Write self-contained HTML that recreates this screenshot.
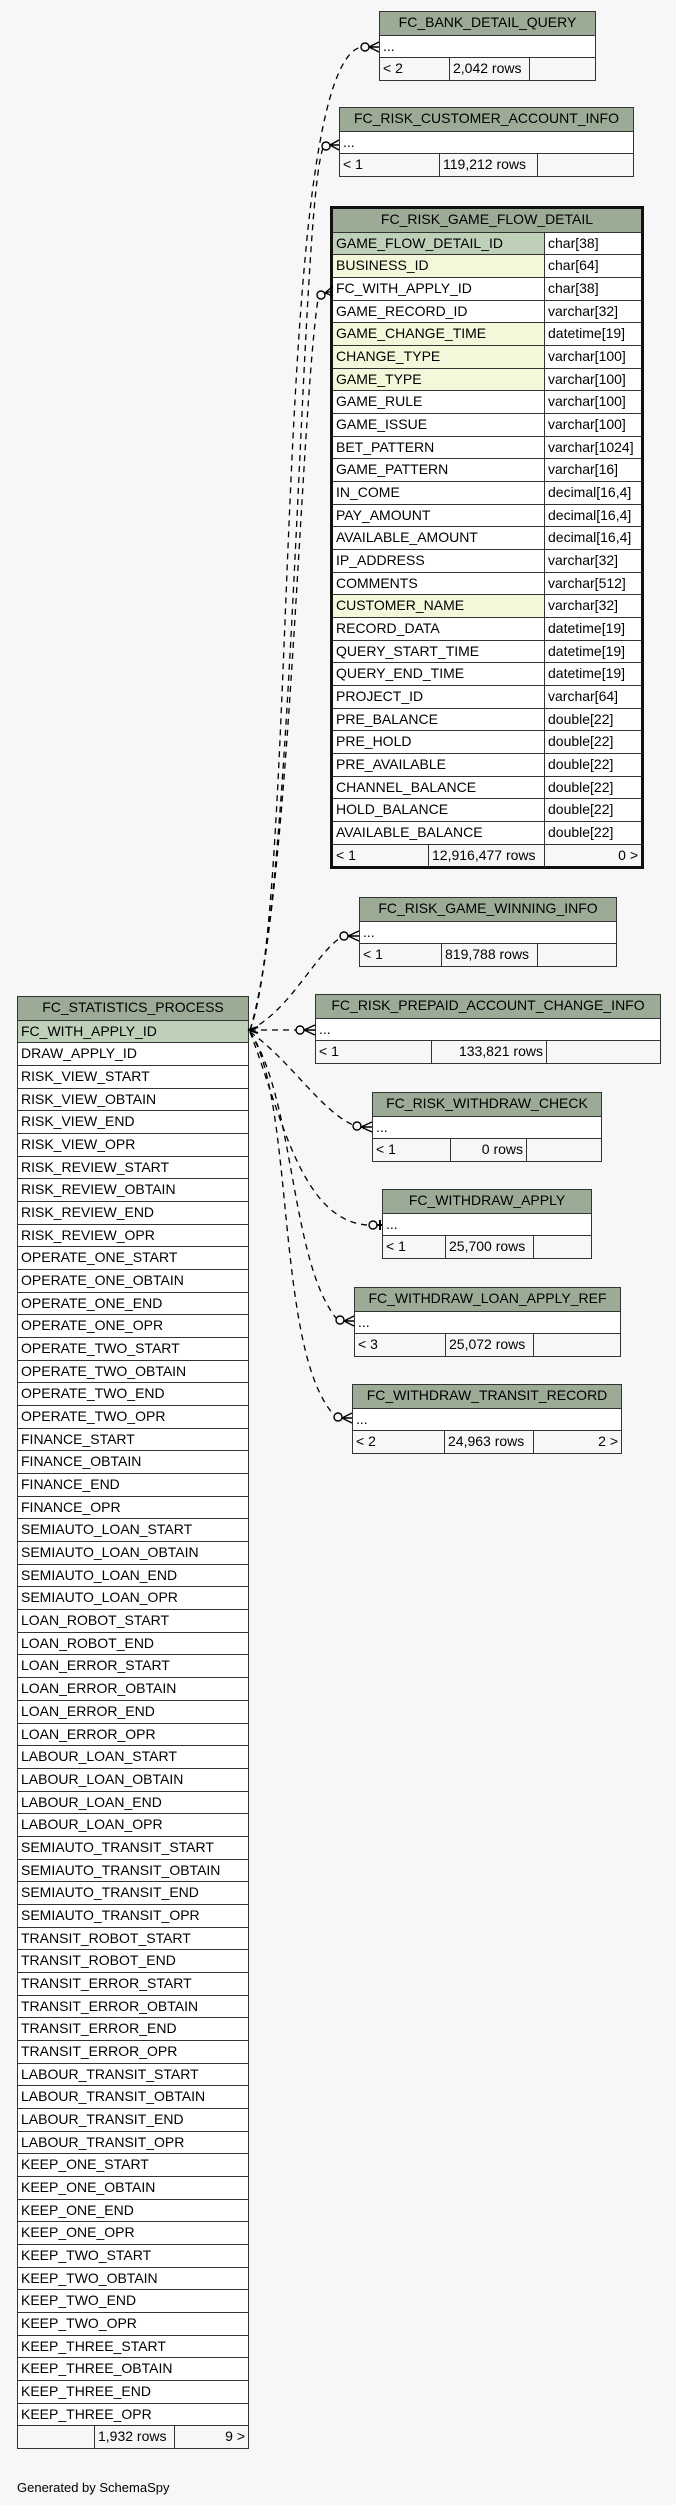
<!DOCTYPE html>
<html><head><meta charset="utf-8"><style>
body{margin:0;width:676px;height:2505px;background:#f7f7f7;position:relative;overflow:hidden;font-family:"Liberation Sans",Arial,sans-serif;font-size:14px;color:#000}
.t{position:absolute;border:1px solid #333;background:#fff;box-sizing:border-box}
.r{height:22.68px;box-sizing:border-box;border-top:1px solid #333;display:flex;line-height:21px;white-space:nowrap;overflow:hidden}
.r:first-child{border-top:none}
.h{background:#9bab96;justify-content:center;text-align:center}
.c{padding-left:3px;box-sizing:border-box;overflow:hidden}
.c+.c{border-left:1px solid #333}
.f{background:#f7f7f7}
.rt{text-align:right;padding-right:3px}
.pk{background:#bed1b8}
.y{background:#f4f7da}
.g{border:3px solid #111}
svg{position:absolute;left:0;top:0}
</style></head><body>

<!-- FC_BANK_DETAIL_QUERY -->
<div class="t" style="left:379px;top:11px;width:217px">
<div class="r h">FC_BANK_DETAIL_QUERY</div>
<div class="r"><div class="c">...</div></div>
<div class="r f"><div class="c" style="width:69px">&lt; 2</div><div class="c" style="width:80px">2,042 rows</div><div class="c" style="flex:1"></div></div>
</div>

<!-- FC_RISK_CUSTOMER_ACCOUNT_INFO -->
<div class="t" style="left:339px;top:107px;width:295px">
<div class="r h">FC_RISK_CUSTOMER_ACCOUNT_INFO</div>
<div class="r"><div class="c">...</div></div>
<div class="r f"><div class="c" style="width:99px">&lt; 1</div><div class="c" style="width:98px">119,212 rows</div><div class="c" style="flex:1"></div></div>
</div>

<!-- FC_RISK_GAME_FLOW_DETAIL -->
<div class="t g" style="left:330px;top:206px;width:314px">
<div class="r h">FC_RISK_GAME_FLOW_DETAIL</div>
<div class="r"><div class="c pk" style="width:211px">GAME_FLOW_DETAIL_ID</div><div class="c" style="flex:1">char[38]</div></div>
<div class="r"><div class="c y" style="width:211px">BUSINESS_ID</div><div class="c" style="flex:1">char[64]</div></div>
<div class="r"><div class="c" style="width:211px">FC_WITH_APPLY_ID</div><div class="c" style="flex:1">char[38]</div></div>
<div class="r"><div class="c" style="width:211px">GAME_RECORD_ID</div><div class="c" style="flex:1">varchar[32]</div></div>
<div class="r"><div class="c y" style="width:211px">GAME_CHANGE_TIME</div><div class="c" style="flex:1">datetime[19]</div></div>
<div class="r"><div class="c y" style="width:211px">CHANGE_TYPE</div><div class="c" style="flex:1">varchar[100]</div></div>
<div class="r"><div class="c y" style="width:211px">GAME_TYPE</div><div class="c" style="flex:1">varchar[100]</div></div>
<div class="r"><div class="c" style="width:211px">GAME_RULE</div><div class="c" style="flex:1">varchar[100]</div></div>
<div class="r"><div class="c" style="width:211px">GAME_ISSUE</div><div class="c" style="flex:1">varchar[100]</div></div>
<div class="r"><div class="c" style="width:211px">BET_PATTERN</div><div class="c" style="flex:1">varchar[1024]</div></div>
<div class="r"><div class="c" style="width:211px">GAME_PATTERN</div><div class="c" style="flex:1">varchar[16]</div></div>
<div class="r"><div class="c" style="width:211px">IN_COME</div><div class="c" style="flex:1">decimal[16,4]</div></div>
<div class="r"><div class="c" style="width:211px">PAY_AMOUNT</div><div class="c" style="flex:1">decimal[16,4]</div></div>
<div class="r"><div class="c" style="width:211px">AVAILABLE_AMOUNT</div><div class="c" style="flex:1">decimal[16,4]</div></div>
<div class="r"><div class="c" style="width:211px">IP_ADDRESS</div><div class="c" style="flex:1">varchar[32]</div></div>
<div class="r"><div class="c" style="width:211px">COMMENTS</div><div class="c" style="flex:1">varchar[512]</div></div>
<div class="r"><div class="c y" style="width:211px">CUSTOMER_NAME</div><div class="c" style="flex:1">varchar[32]</div></div>
<div class="r"><div class="c" style="width:211px">RECORD_DATA</div><div class="c" style="flex:1">datetime[19]</div></div>
<div class="r"><div class="c" style="width:211px">QUERY_START_TIME</div><div class="c" style="flex:1">datetime[19]</div></div>
<div class="r"><div class="c" style="width:211px">QUERY_END_TIME</div><div class="c" style="flex:1">datetime[19]</div></div>
<div class="r"><div class="c" style="width:211px">PROJECT_ID</div><div class="c" style="flex:1">varchar[64]</div></div>
<div class="r"><div class="c" style="width:211px">PRE_BALANCE</div><div class="c" style="flex:1">double[22]</div></div>
<div class="r"><div class="c" style="width:211px">PRE_HOLD</div><div class="c" style="flex:1">double[22]</div></div>
<div class="r"><div class="c" style="width:211px">PRE_AVAILABLE</div><div class="c" style="flex:1">double[22]</div></div>
<div class="r"><div class="c" style="width:211px">CHANNEL_BALANCE</div><div class="c" style="flex:1">double[22]</div></div>
<div class="r"><div class="c" style="width:211px">HOLD_BALANCE</div><div class="c" style="flex:1">double[22]</div></div>
<div class="r"><div class="c" style="width:211px">AVAILABLE_BALANCE</div><div class="c" style="flex:1">double[22]</div></div>
<div class="r f"><div class="c" style="width:95px">&lt; 1</div><div class="c" style="width:116px">12,916,477 rows</div><div class="c rt" style="flex:1">0 &gt;</div></div>
</div>

<!-- FC_RISK_GAME_WINNING_INFO -->
<div class="t" style="left:359px;top:897px;width:258px">
<div class="r h">FC_RISK_GAME_WINNING_INFO</div>
<div class="r"><div class="c">...</div></div>
<div class="r f"><div class="c" style="width:81px">&lt; 1</div><div class="c" style="width:96px">819,788 rows</div><div class="c" style="flex:1"></div></div>
</div>

<!-- FC_RISK_PREPAID_ACCOUNT_CHANGE_INFO -->
<div class="t" style="left:315px;top:994px;width:346px">
<div class="r h">FC_RISK_PREPAID_ACCOUNT_CHANGE_INFO</div>
<div class="r"><div class="c">...</div></div>
<div class="r f"><div class="c" style="width:115px">&lt; 1</div><div class="c rt" style="width:115px">133,821 rows</div><div class="c" style="flex:1"></div></div>
</div>

<!-- FC_RISK_WITHDRAW_CHECK -->
<div class="t" style="left:372px;top:1092px;width:230px">
<div class="r h">FC_RISK_WITHDRAW_CHECK</div>
<div class="r"><div class="c">...</div></div>
<div class="r f"><div class="c" style="width:77px">&lt; 1</div><div class="c rt" style="width:76px">0 rows</div><div class="c" style="flex:1"></div></div>
</div>

<!-- FC_WITHDRAW_APPLY -->
<div class="t" style="left:382px;top:1189px;width:210px">
<div class="r h">FC_WITHDRAW_APPLY</div>
<div class="r"><div class="c">...</div></div>
<div class="r f"><div class="c" style="width:62px">&lt; 1</div><div class="c" style="width:88px">25,700 rows</div><div class="c" style="flex:1"></div></div>
</div>

<!-- FC_WITHDRAW_LOAN_APPLY_REF -->
<div class="t" style="left:354px;top:1287px;width:267px">
<div class="r h">FC_WITHDRAW_LOAN_APPLY_REF</div>
<div class="r"><div class="c">...</div></div>
<div class="r f"><div class="c" style="width:90px">&lt; 3</div><div class="c" style="width:88px">25,072 rows</div><div class="c" style="flex:1"></div></div>
</div>

<!-- FC_WITHDRAW_TRANSIT_RECORD -->
<div class="t" style="left:352px;top:1384px;width:270px">
<div class="r h">FC_WITHDRAW_TRANSIT_RECORD</div>
<div class="r"><div class="c">...</div></div>
<div class="r f"><div class="c" style="width:91px">&lt; 2</div><div class="c" style="width:89px">24,963 rows</div><div class="c rt" style="flex:1">2 &gt;</div></div>
</div>

<!-- FC_STATISTICS_PROCESS -->
<div class="t" style="left:17px;top:996px;width:232px">
<div class="r h">FC_STATISTICS_PROCESS</div>
<div class="r pk"><div class="c">FC_WITH_APPLY_ID</div></div>
<div class="r"><div class="c">DRAW_APPLY_ID</div></div>
<div class="r"><div class="c">RISK_VIEW_START</div></div>
<div class="r"><div class="c">RISK_VIEW_OBTAIN</div></div>
<div class="r"><div class="c">RISK_VIEW_END</div></div>
<div class="r"><div class="c">RISK_VIEW_OPR</div></div>
<div class="r"><div class="c">RISK_REVIEW_START</div></div>
<div class="r"><div class="c">RISK_REVIEW_OBTAIN</div></div>
<div class="r"><div class="c">RISK_REVIEW_END</div></div>
<div class="r"><div class="c">RISK_REVIEW_OPR</div></div>
<div class="r"><div class="c">OPERATE_ONE_START</div></div>
<div class="r"><div class="c">OPERATE_ONE_OBTAIN</div></div>
<div class="r"><div class="c">OPERATE_ONE_END</div></div>
<div class="r"><div class="c">OPERATE_ONE_OPR</div></div>
<div class="r"><div class="c">OPERATE_TWO_START</div></div>
<div class="r"><div class="c">OPERATE_TWO_OBTAIN</div></div>
<div class="r"><div class="c">OPERATE_TWO_END</div></div>
<div class="r"><div class="c">OPERATE_TWO_OPR</div></div>
<div class="r"><div class="c">FINANCE_START</div></div>
<div class="r"><div class="c">FINANCE_OBTAIN</div></div>
<div class="r"><div class="c">FINANCE_END</div></div>
<div class="r"><div class="c">FINANCE_OPR</div></div>
<div class="r"><div class="c">SEMIAUTO_LOAN_START</div></div>
<div class="r"><div class="c">SEMIAUTO_LOAN_OBTAIN</div></div>
<div class="r"><div class="c">SEMIAUTO_LOAN_END</div></div>
<div class="r"><div class="c">SEMIAUTO_LOAN_OPR</div></div>
<div class="r"><div class="c">LOAN_ROBOT_START</div></div>
<div class="r"><div class="c">LOAN_ROBOT_END</div></div>
<div class="r"><div class="c">LOAN_ERROR_START</div></div>
<div class="r"><div class="c">LOAN_ERROR_OBTAIN</div></div>
<div class="r"><div class="c">LOAN_ERROR_END</div></div>
<div class="r"><div class="c">LOAN_ERROR_OPR</div></div>
<div class="r"><div class="c">LABOUR_LOAN_START</div></div>
<div class="r"><div class="c">LABOUR_LOAN_OBTAIN</div></div>
<div class="r"><div class="c">LABOUR_LOAN_END</div></div>
<div class="r"><div class="c">LABOUR_LOAN_OPR</div></div>
<div class="r"><div class="c">SEMIAUTO_TRANSIT_START</div></div>
<div class="r"><div class="c">SEMIAUTO_TRANSIT_OBTAIN</div></div>
<div class="r"><div class="c">SEMIAUTO_TRANSIT_END</div></div>
<div class="r"><div class="c">SEMIAUTO_TRANSIT_OPR</div></div>
<div class="r"><div class="c">TRANSIT_ROBOT_START</div></div>
<div class="r"><div class="c">TRANSIT_ROBOT_END</div></div>
<div class="r"><div class="c">TRANSIT_ERROR_START</div></div>
<div class="r"><div class="c">TRANSIT_ERROR_OBTAIN</div></div>
<div class="r"><div class="c">TRANSIT_ERROR_END</div></div>
<div class="r"><div class="c">TRANSIT_ERROR_OPR</div></div>
<div class="r"><div class="c">LABOUR_TRANSIT_START</div></div>
<div class="r"><div class="c">LABOUR_TRANSIT_OBTAIN</div></div>
<div class="r"><div class="c">LABOUR_TRANSIT_END</div></div>
<div class="r"><div class="c">LABOUR_TRANSIT_OPR</div></div>
<div class="r"><div class="c">KEEP_ONE_START</div></div>
<div class="r"><div class="c">KEEP_ONE_OBTAIN</div></div>
<div class="r"><div class="c">KEEP_ONE_END</div></div>
<div class="r"><div class="c">KEEP_ONE_OPR</div></div>
<div class="r"><div class="c">KEEP_TWO_START</div></div>
<div class="r"><div class="c">KEEP_TWO_OBTAIN</div></div>
<div class="r"><div class="c">KEEP_TWO_END</div></div>
<div class="r"><div class="c">KEEP_TWO_OPR</div></div>
<div class="r"><div class="c">KEEP_THREE_START</div></div>
<div class="r"><div class="c">KEEP_THREE_OBTAIN</div></div>
<div class="r"><div class="c">KEEP_THREE_END</div></div>
<div class="r"><div class="c">KEEP_THREE_OPR</div></div>
<div class="r f"><div class="c" style="width:76px"></div><div class="c" style="width:80px">1,932 rows</div><div class="c rt" style="flex:1">9 &gt;</div></div>
</div>

<div style="position:absolute;left:17px;top:2480px;font-size:13px">Generated by SchemaSpy</div>

<svg width="676" height="2505" viewBox="0 0 676 2505">
<g fill="none" stroke="#000" stroke-width="1.3" stroke-dasharray="6,5">
<path d="M250 1030 C 300 900, 270 70, 361 47"/>
<path d="M250 1030 C 295 900, 300 210, 323 148"/>
<path d="M250 1030 C 290 900, 300 420, 318 299"/>
<path d="M250 1030 C 290 1010, 315 955, 340 938"/>
<path d="M250 1030 L 296 1030"/>
<path d="M250 1032 C 290 1060, 320 1110, 353 1125"/>
<path d="M250 1032 C 280 1110, 300 1220, 367 1225"/>
<path d="M250 1032 C 295 1100, 290 1260, 336 1318"/>
<path d="M250 1032 C 295 1100, 275 1350, 334 1415"/>
</g>
<g fill="none" stroke="#000" stroke-width="1.4">
<circle cx="365" cy="47" r="4"/><path d="M369 47 L379 42 M369 47 L379 47 M369 47 L379 52"/>
<circle cx="326" cy="146" r="4"/><path d="M330 145 L339 140 M330 145 L339 145 M330 145 L339 150"/>
<circle cx="321" cy="295" r="4"/><path d="M325 293 L333 286 M325 293 L333 291 M325 293 L333 296"/>
<circle cx="344" cy="936" r="4"/><path d="M348 936 L359 931 M348 936 L359 936 M348 936 L359 941"/>
<circle cx="300" cy="1030" r="4"/><path d="M304 1030 L315 1025 M304 1030 L315 1030 M304 1030 L315 1035"/>
<circle cx="357" cy="1126" r="4"/><path d="M361 1127 L372 1122 M361 1127 L372 1127 M361 1127 L372 1132"/>
<circle cx="373" cy="1225" r="4"/><path d="M377 1225 L382 1225 M380 1220 L380 1230" stroke-width="2"/>
<circle cx="340" cy="1320" r="4"/><path d="M344 1321 L354 1316 M344 1321 L354 1321 M344 1321 L354 1326"/>
<circle cx="338" cy="1417" r="4"/><path d="M342 1418 L352 1413 M342 1418 L352 1418 M342 1418 L352 1423"/>
<path d="M248 1030 L258 1027 M248 1030 L258 1033" stroke-width="2"/>
</g>
</svg>
</body></html>
